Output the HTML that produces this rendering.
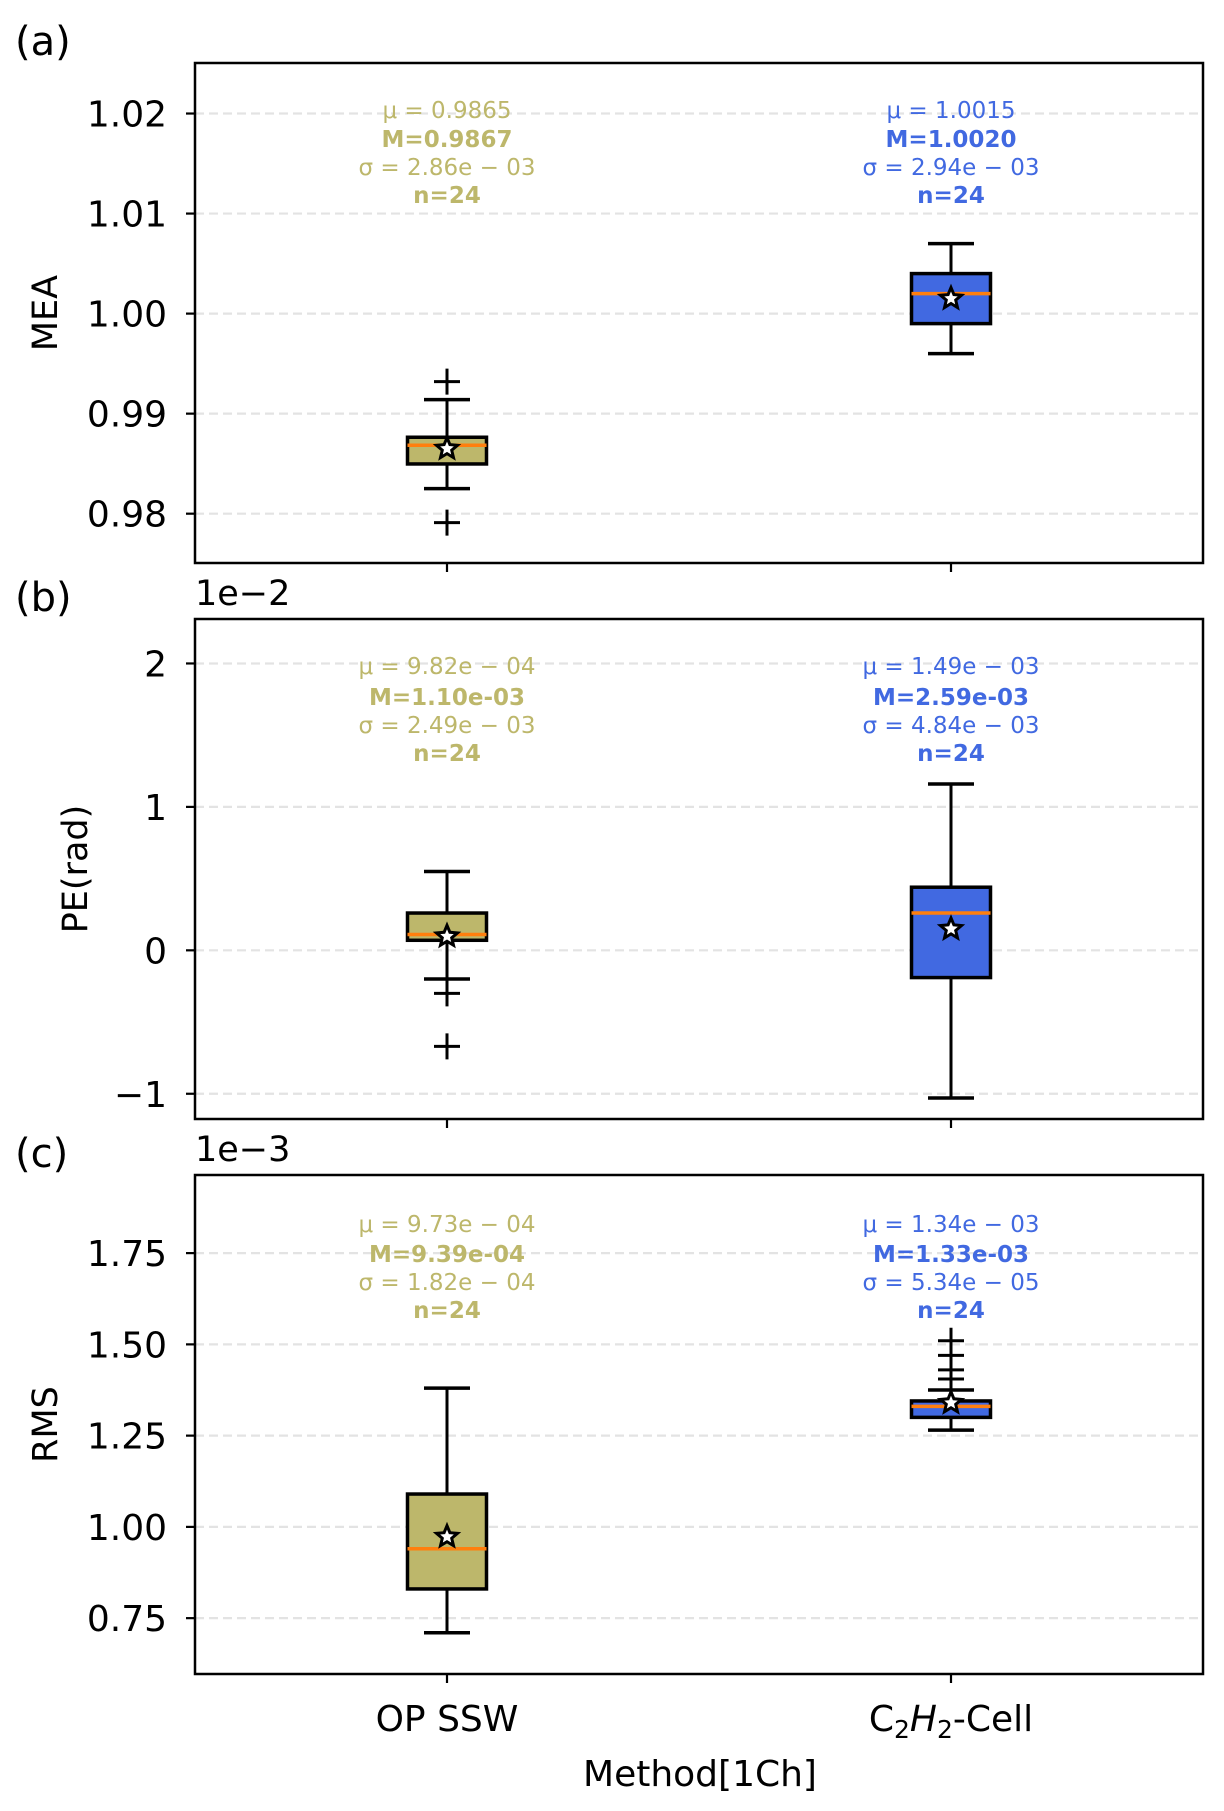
<!DOCTYPE html>
<html><head><meta charset="utf-8"><style>
body{margin:0;background:#fff}
svg{display:block;font-family:"DejaVu Sans","Liberation Sans",sans-serif}
</style></head><body>
<svg id="fig" width="1224" height="1811" viewBox="0 0 1224 1811" xmlns="http://www.w3.org/2000/svg"></svg>
<script>
const methods = ["OP SSW", "C2H2-Cell"];
const colors = ["#bdb76b", "#4169e1"];
// panel a (MEA)
const meaStats = [
  {q1:0.98497,q3:0.98764,med:0.98684,mean:0.9865,lo:0.9825,hi:0.9914,fliers:[0.9932,0.9791]},
  {q1:0.9990,q3:1.0040,med:1.0020,mean:1.0015,lo:0.9960,hi:1.0070,fliers:[]}
];
const meaTicks = [0.98,0.99,1.00,1.01,1.02];
const meaTickLabels = ["0.98","0.99","1.00","1.01","1.02"];
const meaText = [["μ = 0.9865","M=0.9867","σ = 2.86e − 03","n=24"],["μ = 1.0015","M=1.0020","σ = 2.94e − 03","n=24"]];
// panel b (PE, x1e-2)
const peStats = [
  {q1:0.07,q3:0.26,med:0.11,mean:0.098,lo:-0.20,hi:0.55,fliers:[-0.30,-0.67]},
  {q1:-0.19,q3:0.44,med:0.26,mean:0.149,lo:-1.03,hi:1.16,fliers:[]}
];
const peTicks = [-1,0,1,2];
const peTickLabels = ["−1","0","1","2"];
const peText = [["μ = 9.82e − 04","M=1.10e-03","σ = 2.49e − 03","n=24"],["μ = 1.49e − 03","M=2.59e-03","σ = 4.84e − 03","n=24"]];
// panel c (RMS, x1e-3)
const rmsStats = [
  {q1:0.83,q3:1.09,med:0.94,mean:0.973,lo:0.71,hi:1.38,fliers:[]},
  {q1:1.30,q3:1.345,med:1.33,mean:1.34,lo:1.265,hi:1.375,fliers:[1.405,1.43,1.47,1.51]}
];
const rmsTicks = [0.75,1.00,1.25,1.50,1.75];
const rmsTickLabels = ["0.75","1.00","1.25","1.50","1.75"];
const rmsText = [["μ = 9.73e − 04","M=9.39e-04","σ = 1.82e − 04","n=24"],["μ = 1.34e − 03","M=1.33e-03","σ = 5.34e − 05","n=24"]];

const NS="http://www.w3.org/2000/svg";
const svg=document.getElementById('fig');
function el(tag,attrs,parent,text){const e=document.createElementNS(NS,tag);for(const k in attrs)e.setAttribute(k,attrs[k]);if(text!==undefined)e.textContent=text;(parent||svg).appendChild(e);return e;}
const L=195,R=1203;
const xs=i=>L+(i+1-0.5)/2*(R-L);
function starPts(cx,cy,r){let p=[];for(let k=0;k<10;k++){const a=-Math.PI/2+k*Math.PI/5;const rr=k%2?r*0.45:r;p.push((cx+rr*Math.cos(a)).toFixed(1)+","+(cy+rr*Math.sin(a)).toFixed(1));}return p.join(" ");}

function panel(key,top,bot,ymin,ymax,stats,ticks,tlabels,texts,textY,ylabel,ylabX,letter,offset){
  const g=el('g',{});
  
  
  const y=v=>bot-(v-ymin)/(ymax-ymin)*(bot-top);
  ticks.forEach((t,i)=>{
    const gl=el('line',{x1:L,x2:R,y1:y(t),y2:y(t),stroke:'#e3e3e3','stroke-width':2.2,'stroke-dasharray':'9,5'},g);
    
    
    el('line',{x1:L-9,x2:L,y1:y(t),y2:y(t),stroke:'#000','stroke-width':2.2},g);
    const tl=el('text',{x:L-28,y:y(t)+13,'text-anchor':'end','font-size':36},g,tlabels[i]);
    
    
  });
  stats.forEach((s,i)=>{
    const cx=xs(i),bw=79,cw=46;
    const bg=el('g',{},g);
    
    
    el('line',{x1:cx,x2:cx,y1:y(s.q3),y2:y(s.hi),stroke:'#000','stroke-width':3},bg);
    el('line',{x1:cx,x2:cx,y1:y(s.q1),y2:y(s.lo),stroke:'#000','stroke-width':3},bg);
    el('line',{x1:cx-cw/2,x2:cx+cw/2,y1:y(s.hi),y2:y(s.hi),stroke:'#000','stroke-width':3.5},bg);
    el('line',{x1:cx-cw/2,x2:cx+cw/2,y1:y(s.lo),y2:y(s.lo),stroke:'#000','stroke-width':3.5},bg);
    el('rect',{x:cx-bw/2,y:y(s.q3),width:bw,height:y(s.q1)-y(s.q3),fill:colors[i],stroke:'#000','stroke-width':3.5},bg);
    el('line',{x1:cx-bw/2,x2:cx+bw/2,y1:y(s.med),y2:y(s.med),stroke:'#ff7f0e','stroke-width':3.5},bg);
    el('polygon',{points:starPts(cx,y(s.mean),11),fill:'#fff',stroke:'#000','stroke-width':3},bg);
    s.fliers.forEach(f=>{
      el('path',{d:`M${cx-13},${y(f)}H${cx+13}M${cx},${y(f)-13}V${y(f)+13}`,stroke:'#000','stroke-width':3,fill:'none'},bg);
    });
    texts[i].forEach((t,j)=>{
      const tt=el('text',{x:cx,y:textY[j],'text-anchor':'middle','font-size':23,fill:colors[i],'font-weight':(j%2)?'bold':'normal'},g,t);
      
      
    });
    el('line',{x1:cx,x2:cx,y1:bot,y2:bot+9,stroke:'#000','stroke-width':2.2},g);
  });
  el('rect',{x:L,y:top,width:R-L,height:bot-top,fill:'none',stroke:'#000','stroke-width':2.5},g);
  const yl=el('text',{x:ylabX,y:(top+bot)/2,'text-anchor':'middle','font-size':35,transform:`rotate(-90 ${ylabX} ${(top+bot)/2})`,'dominant-baseline':'middle'},g,ylabel);
  
  
  const pl=el('text',{x:15,y:top-8,'font-size':40},g,letter);
  
  
  if(offset){
    const ot=el('text',{x:L,y:top-14,'font-size':35},g,offset);
    
    
  }
}
panel('mea',63,563,0.97507,1.02505,meaStats,meaTicks,meaTickLabels,meaText,[118,147,175,203],'MEA',47,'(a)',null);
panel('pe',619,1119,-1.176,2.31,peStats,peTicks,peTickLabels,peText,[674,705,733,761],'PE(rad)',77,'(b)','1e−2');
panel('rms',1175,1674,0.597,1.964,rmsStats,rmsTicks,rmsTickLabels,rmsText,[1232,1262,1290,1318],'RMS',47,'(c)','1e−3');

const x1=el('text',{x:xs(0),y:1731,'text-anchor':'middle','font-size':36},svg,methods[0]);


const x2=el('text',{x:xs(1),y:1731,'text-anchor':'middle','font-size':36},svg);


x2.innerHTML='C<tspan font-size="25" dy="7">2</tspan><tspan dy="-7" font-style="italic">H</tspan><tspan font-size="25" dy="7">2</tspan><tspan dy="-7">-Cell</tspan>';
const xt=el('text',{x:700,y:1786,'text-anchor':'middle','font-size':36},svg,'Method[1Ch]');


</script>
</body></html>
